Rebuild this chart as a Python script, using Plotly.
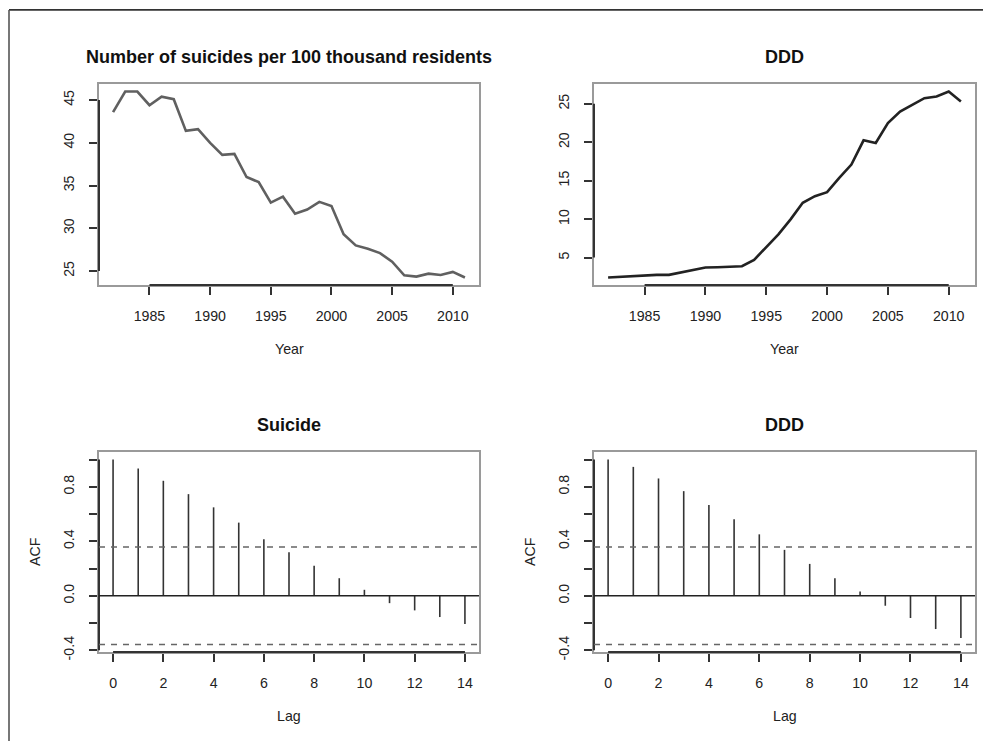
import plotly.graph_objects as go
import math

# ---------------- data ----------------
years = list(range(1982, 2012))
suicide_rate = [43.6, 46.0, 46.0, 44.4, 45.4, 45.1, 41.4, 41.6, 40.0, 38.6,
                38.7, 36.0, 35.4, 33.0, 33.7, 31.7, 32.2, 33.1, 32.6, 29.3,
                28.0, 27.6, 27.1, 26.1, 24.5, 24.35, 24.7, 24.55, 24.9, 24.25]
ddd = [2.41, 2.49, 2.62, 2.71, 2.75, 2.75, 3.06, 3.36, 3.70, 3.75,
       3.79, 3.88, 4.70, 6.30, 8.02, 9.97, 12.13, 12.99, 13.51, 15.37,
       17.10, 20.25, 19.90, 22.50, 24.00, 24.87, 25.73, 25.95, 26.60, 25.30]
lags = list(range(0, 15))
acf_suicide = [1.0, 0.934, 0.844, 0.746, 0.649, 0.537, 0.415, 0.320, 0.220,
               0.129, 0.044, -0.054, -0.107, -0.156, -0.207]
acf_ddd = [1.0, 0.946, 0.861, 0.768, 0.666, 0.561, 0.451, 0.337, 0.234,
           0.129, 0.032, -0.073, -0.163, -0.244, -0.310]

year_ticks = [1985, 1990, 1995, 2000, 2005, 2010]
suicide_ticks = [25, 30, 35, 40, 45]
ddd_ticks = [5, 10, 15, 20, 25]
lag_ticks = [0, 2, 4, 6, 8, 10, 12, 14]
acf_ticks = [-0.4, -0.2, 0.0, 0.2, 0.4, 0.6, 0.8, 1.0]
acf_ticktext = ["-0.4", "", "0.0", "", "0.4", "", "0.8", ""]

titles = ["Number of suicides per 100 thousand residents", "DDD", "Suicide", "DDD"]

# ---------------- layout helpers ----------------
W, H = 983, 749
ci = 1.96 / math.sqrt(len(years))


def r_range(vals):
    lo, hi = min(vals), max(vals)
    d = (hi - lo) * 0.04
    return [lo - d, hi + d]


def fx(px):
    return px / W


def fy(py):
    return 1 - py / H


FONT = "Liberation Sans, Arial, Helvetica, sans-serif"
TICKFONT = dict(family=FONT, size=14.2, color="#222")
BOX_COL = "#9a9a9a"
AX_COL = "#333"

panels = [
    dict(l=99, r=479, t=85, b=288),
    dict(l=594, r=975, t=85, b=288),
    dict(l=99, r=479, t=457, b=659),
    dict(l=594, r=975, t=457, b=659),
]

fig = go.Figure()

# time series
fig.add_trace(go.Scatter(x=years, y=suicide_rate, mode="lines",
                         line=dict(color="#606060", width=2.6),
                         xaxis="x", yaxis="y", showlegend=False))
fig.add_trace(go.Scatter(x=years, y=ddd, mode="lines",
                         line=dict(color="#222222", width=2.6),
                         xaxis="x2", yaxis="y2", showlegend=False))


def spikes(lg, vals):
    xs, ys = [], []
    for l, v in zip(lg, vals):
        xs += [l, l, None]
        ys += [0, v, None]
    return xs, ys


for i, acf in enumerate([acf_suicide, acf_ddd]):
    xs, ys = spikes(lags, acf)
    n = str(i + 3)
    fig.add_trace(go.Scatter(x=xs, y=ys, mode="lines",
                             line=dict(color="#333333", width=1.6),
                             xaxis="x" + n, yaxis="y" + n, showlegend=False))

layout = dict(width=W, height=H, margin=dict(l=0, r=0, t=0, b=0),
              paper_bgcolor="white", plot_bgcolor="white", showlegend=False)

xranges = [r_range(years), r_range(years), r_range(lags), r_range(lags)]
yranges = [r_range(suicide_rate), r_range(ddd),
           r_range([-ci, ci] + acf_suicide), r_range([-ci, ci] + acf_ddd)]
xtickv = [year_ticks, year_ticks, lag_ticks, lag_ticks]
ytickv = [suicide_ticks, ddd_ticks, acf_ticks, acf_ticks]
yticktext = [[str(v) for v in suicide_ticks], [str(v) for v in ddd_ticks],
             acf_ticktext, acf_ticktext]

shapes = []
annotations = []
for i, p in enumerate(panels):
    sfx = "" if i == 0 else str(i + 1)
    xdom = [fx(p["l"]), fx(p["r"])]
    ydom = [fy(p["b"]), fy(p["t"])]
    xa = dict(domain=xdom, range=xranges[i], anchor="y" + sfx,
              showgrid=False, zeroline=False, showline=True, mirror=True,
              linecolor=BOX_COL, linewidth=2,
              ticks="outside", ticklen=8, tickwidth=1.5, tickcolor=AX_COL,
              tickvals=xtickv[i], ticktext=[str(v) for v in xtickv[i]],
              tickfont=TICKFONT, ticklabelstandoff=9)
    ya = dict(domain=ydom, range=yranges[i], anchor="x" + sfx,
              showgrid=False, zeroline=False, showline=True, mirror=True,
              linecolor=BOX_COL, linewidth=2,
              ticks="outside", ticklen=8, tickwidth=1.5, tickcolor=AX_COL,
              tickvals=ytickv[i], ticktext=yticktext[i], tickangle=-90,
              tickfont=TICKFONT, ticklabelstandoff=9)
    layout["xaxis" + sfx] = xa
    layout["yaxis" + sfx] = ya

    xr = "x" + sfx
    yr = "y" + sfx
    # dark axis segments spanning first to last tick
    shapes.append(dict(type="line", xref=xr, yref=yr + " domain",
                       x0=xtickv[i][0], x1=xtickv[i][-1], y0=0, y1=0,
                       line=dict(color=AX_COL, width=2)))
    shapes.append(dict(type="line", xref=xr + " domain", yref=yr,
                       x0=0, x1=0, y0=ytickv[i][0], y1=ytickv[i][-1],
                       line=dict(color=AX_COL, width=2)))

    cx = (xdom[0] + xdom[1]) / 2
    # titles
    annotations.append(dict(text="<b>" + titles[i] + "</b>", xref="paper", yref="paper",
                            x=cx, y=fy(p["t"] - 27), xanchor="center", yanchor="middle",
                            showarrow=False, font=dict(family=FONT, size=18, color="#111")))
    # x axis title
    annotations.append(dict(text="Year" if i < 2 else "Lag", xref="paper", yref="paper",
                            x=cx, y=fy(p["b"] + 65), xanchor="center", yanchor="middle",
                            showarrow=False, font=dict(family=FONT, size=14.2, color="#222")))
    if i >= 2:
        annotations.append(dict(text="ACF", xref="paper", yref="paper",
                                x=fx(p["l"] - 64), y=(ydom[0] + ydom[1]) / 2,
                                xanchor="center", yanchor="middle",
                                textangle=-90, showarrow=False,
                                font=dict(family=FONT, size=14.2, color="#222")))
        # zero line and confidence bounds
        shapes.append(dict(type="line", xref=xr + " domain", yref=yr,
                           x0=0, x1=1, y0=0, y1=0, line=dict(color="#222", width=1.6)))
        for c in (ci, -ci):
            shapes.append(dict(type="line", xref=xr + " domain", yref=yr,
                               x0=0, x1=1, y0=c, y1=c,
                               line=dict(color="#666", width=1.6, dash="6px,6px")))

# outer frame (top and left edges)
shapes.append(dict(type="line", xref="paper", yref="paper",
                   x0=fx(9), x1=1, y0=fy(10), y1=fy(10),
                   line=dict(color="#333", width=1.6)))
shapes.append(dict(type="line", xref="paper", yref="paper",
                   x0=fx(9), x1=fx(9), y0=0, y1=fy(10),
                   line=dict(color="#555", width=1.6)))

layout["shapes"] = shapes
layout["annotations"] = annotations
fig.update_layout(**layout)
# remove the default 8px page margin so the figure fills the window exactly
fig.write_html("out.html",
               config={"displayModeBar": False},
               post_script="document.body.style.margin='0px';document.body.style.overflow='hidden';")
